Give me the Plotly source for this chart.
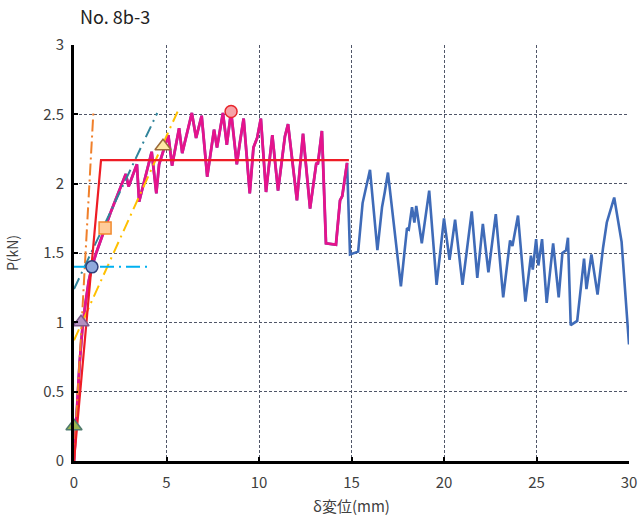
import plotly.graph_objects as go

# Load-displacement record (mm, kN)
disp = [0, 0.15, 0.3, 0.45, 0.6, 0.8, 0.97, 1.2, 1.45, 1.68, 2.0, 2.3, 2.6, 2.8, 2.95,
        3.4, 3.52, 4.2, 4.45, 4.6, 5.1, 5.3, 5.68, 5.85, 6.37, 6.6, 6.9, 7.2, 7.57, 7.73,
        8.05, 8.26, 8.49, 8.8, 8.97, 9.17, 9.5, 9.7, 9.9, 10.1, 10.38, 10.72, 11.03, 11.4,
        11.57, 12.05, 12.38, 12.76, 13.1, 13.18, 13.4, 13.62, 14.16, 14.38, 14.5, 14.76,
        14.92, 15.36, 15.6, 16.0, 16.4, 16.65, 16.8, 16.97, 17.67, 18.0, 18.1, 18.27, 18.4,
        18.5, 18.8, 19.2, 19.6, 20.0, 20.3, 20.6, 21.0, 21.5, 21.8, 22.1, 22.4, 22.8, 23.2,
        23.57, 23.7, 24.0, 24.4, 24.7, 24.8, 24.98, 25.1, 25.3, 25.55, 25.9, 26.2, 26.4,
        26.6, 26.7, 26.85, 27.2, 27.57, 27.7, 27.97, 28.3, 28.6, 28.8, 29.2, 29.6, 30.0]
load = [0, 0.35, 0.7, 0.95, 1.12, 1.3, 1.40, 1.5, 1.6, 1.68, 1.8, 1.9, 2.0, 2.07, 1.98,
        2.14, 1.87, 2.23, 1.93, 2.14, 2.35, 2.13, 2.40, 2.22, 2.51, 2.33, 2.49, 2.05, 2.39, 2.26,
        2.51, 2.28, 2.52, 2.14, 2.30, 2.47, 1.93, 2.26, 2.33, 2.47, 1.94, 2.35, 1.95, 2.34,
        2.43, 1.88, 2.36, 1.82, 2.15, 2.14, 2.38, 1.57, 1.56, 1.88, 1.91, 2.15,
        1.49, 1.51, 1.86, 2.10, 1.52, 1.83, 1.94, 2.08, 1.26, 1.68, 1.67, 1.83, 1.72,
        1.84, 1.57, 1.95, 1.27, 1.75, 1.45, 1.74, 1.27, 1.80, 1.32, 1.71, 1.36, 1.78, 1.18,
        1.59, 1.55, 1.77, 1.15, 1.48, 1.38, 1.60, 1.41, 1.60, 1.14, 1.57, 1.18, 1.50,
        1.52, 1.61, 0.98, 1.01, 1.46, 1.24, 1.49, 1.20, 1.54, 1.72, 1.90, 1.58, 0.84]
# portion of the record used for the evaluation (up to this displacement)
eval_limit = 14.76

# Evaluation lines
bilinear_x = [0, 1.46, 14.86]
bilinear_y = [0, 2.17, 2.17]
initial_x = [0, 1.05]
initial_y = [0, 2.52]
line2_x = [0, 4.5]
line2_y = [1.24, 2.51]
line3_x = [0, 5.6]
line3_y = [0.87, 2.52]
py_x = [0, 4.0]
py_y = [1.40, 1.40]

# Characteristic points
pt_x = [0.0, 0.38, 0.97, 1.68, 4.81, 8.49]
pt_y = [0.25, 1.00, 1.40, 1.68, 2.27, 2.52]
pt_symbol = ["triangle-up", "triangle-up", "circle", "square", "triangle-up", "circle"]
pt_size = [14, 14, 12, 12, 14, 12]
pt_fill = ["#9bb54e", "#b390c0", "#8fa9dc", "#ffcc99", "#ffe9a6", "#f6a3a8"]
pt_edge = ["#4f7a6e", "#7e5a8a", "#2f3f7a", "#f28b2e", "#9c6a3a", "#e8262c"]

x_ticks = [0, 5, 10, 15, 20, 25, 30]
y_ticks = [0, 0.5, 1, 1.5, 2, 2.5, 3]

FONT = "Noto Sans CJK JP"

fig = go.Figure()

# full record in blue, evaluated range over it in magenta
fig.add_trace(go.Scatter(x=disp, y=load, mode="lines",
                         line=dict(color="#3f6bb8", width=2.6)))
n_eval = sum(1 for d in disp if d <= eval_limit)
fig.add_trace(go.Scatter(x=disp[:n_eval], y=load[:n_eval], mode="lines",
                         line=dict(color="#e5138c", width=2.8)))

fig.add_trace(go.Scatter(x=initial_x, y=initial_y, mode="lines",
                         line=dict(color="#f07f2a", width=2, dash="12px,4px,2px,4px")))
fig.add_trace(go.Scatter(x=line2_x, y=line2_y, mode="lines",
                         line=dict(color="#31849b", width=2, dash="12px,5px,2px,5px")))
fig.add_trace(go.Scatter(x=line3_x, y=line3_y, mode="lines",
                         line=dict(color="#ffc000", width=2, dash="12px,5px,2px,5px")))
fig.add_trace(go.Scatter(x=py_x, y=py_y, mode="lines",
                         line=dict(color="#00b0f0", width=2, dash="14px,5px,2px,5px")))
fig.add_trace(go.Scatter(x=bilinear_x, y=bilinear_y, mode="lines",
                         line=dict(color="#ee1c25", width=2.2)))

# one marker per point, each drawn on top of the curves
for i in range(len(pt_x)):
    fig.add_trace(go.Scatter(x=[pt_x[i]], y=[pt_y[i]], mode="markers",
                             cliponaxis=(pt_x[i] > 0),
                             marker=dict(symbol=pt_symbol[i], size=pt_size[i],
                                         color=pt_fill[i], opacity=1,
                                         line=dict(color=pt_edge[i], width=1.5))))

fig.update_layout(
    width=640, height=521,
    margin=dict(l=74, r=11, t=45, b=60, autoexpand=False),
    paper_bgcolor="white", plot_bgcolor="white",
    showlegend=False,
    font=dict(family=FONT, color="#404040", size=14),
    title=dict(text="No. 8b-3", x=80 / 640, xanchor="left", xref="container",
               y=1 - 18 / 521, yanchor="middle", yref="container",
               font=dict(family=FONT, size=18, color="#222")),
)

grid = dict(showgrid=True, gridcolor="#505668", gridwidth=1, griddash="3px,2px",
            zeroline=False, showline=True, linecolor="black", linewidth=3,
            ticks="inside", ticklen=4, tickwidth=2, tickcolor="black",
            automargin=False,
            tickfont=dict(family=FONT, size=15, color="#404040"))

fig.update_xaxes(range=[0, 30], tickvals=x_ticks, ticktext=[str(v) for v in x_ticks],
                 ticklabelstandoff=6,
                 title=dict(text="δ変位(mm)", font=dict(family=FONT, size=15, color="#404040"),
                            standoff=11), **grid)
fig.update_yaxes(range=[0, 3], tickvals=y_ticks, ticktext=[f"{v:g}" for v in y_ticks],
                 ticklabelstandoff=4,
                 title=dict(text="P(kN)", font=dict(family=FONT, size=14, color="#404040"),
                            standoff=22), **grid)

fig.write_html("out.html")
